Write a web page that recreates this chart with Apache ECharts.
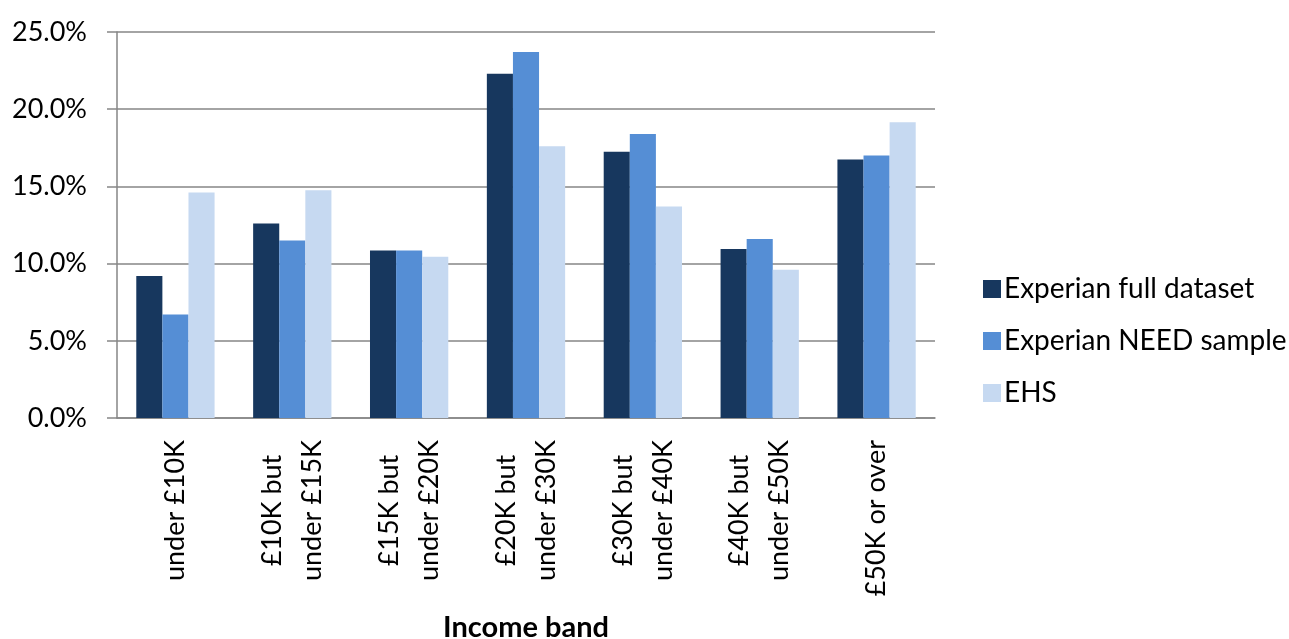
<!DOCTYPE html>
<html>
<head>
<meta charset="utf-8">
<script src="https://cdn.jsdelivr.net/npm/echarts@6/dist/echarts.min.js"></script>
<style>
html,body{margin:0;padding:0;background:#fff;}
#chart{width:1289px;height:639px;}
</style>
</head>
<body>
<div id="chart"></div>
<script>
const categories = ["under £10K", "£10K but\nunder £15K", "£15K but\nunder £20K", "£20K but\nunder £30K", "£30K but\nunder £40K", "£40K but\nunder £50K", "£50K or over"];
const seriesNames = ["Experian full dataset", "Experian NEED sample", "EHS"];
const fullDataset = [9.2, 12.6, 10.85, 22.3, 17.25, 10.95, 16.75];
const needSample = [6.7, 11.5, 10.85, 23.7, 18.4, 11.6, 17.0];
const ehs = [14.6, 14.75, 10.45, 17.6, 13.7, 9.6, 19.15];
const yTicks = [0, 5, 10, 15, 20, 25];

const colors = ["#17375e", "#558ed5", "#c6d9f1"];
const FONT = "Lato, 'Open Sans', sans-serif";
const chart = echarts.init(document.getElementById('chart'));
const values = [fullDataset, needSample, ehs];

chart.setOption({
  animation: false,
  grid: {left: 117, right: 354, top: 32, bottom: 221, containLabel: false, outerBoundsMode: 'none'},
  legend: {
    orient: 'vertical',
    left: 978,
    top: 270,
    itemWidth: 18,
    itemHeight: 18,
    itemGap: 24,
    icon: 'rect',
    textStyle: {fontFamily: FONT, fontSize: 28, color: '#000', padding: [0, 0, 0, -2]},
    data: seriesNames
  },
  xAxis: {
    type: 'category',
    data: categories,
    name: 'Income band',
    nameLocation: 'middle',
    nameGap: 195,
    nameTextStyle: {fontFamily: FONT, fontSize: 29, fontWeight: 'bold', color: '#000'},
    axisLine: {lineStyle: {color: '#868686', width: 1.5}},
    axisTick: {length: 10, lineStyle: {color: '#868686', width: 1.5}},
    axisLabel: {
      rotate: 90,
      margin: 22,
      interval: 0,
      formatter: function (v) {
        return v.split('\n').map(s => '{c|' + s + '}').join('\n');
      },
      rich: {c: {align: 'center', fontFamily: FONT, fontSize: 27, color: '#000', lineHeight: 40}}
    }
  },
  yAxis: {
    type: 'value',
    min: 0,
    max: 25,
    interval: 5,
    axisLine: {show: true, lineStyle: {color: '#868686', width: 1.5}},
    axisTick: {show: true, length: 10, lineStyle: {color: '#868686', width: 1.5}},
    splitLine: {lineStyle: {color: '#868686', width: 1.5}},
    axisLabel: {
      margin: 30,
      fontFamily: FONT,
      fontSize: 27,
      color: '#000',
      formatter: function (v) { return yTicks.includes(v) ? v.toFixed(1) + '%' : ''; }
    }
  },
  series: seriesNames.map((n, i) => ({
    name: n,
    type: 'bar',
    data: values[i],
    barGap: '0%',
    barCategoryGap: '33%',
    itemStyle: {color: colors[i]}
  }))
});
</script>
</body>
</html>
